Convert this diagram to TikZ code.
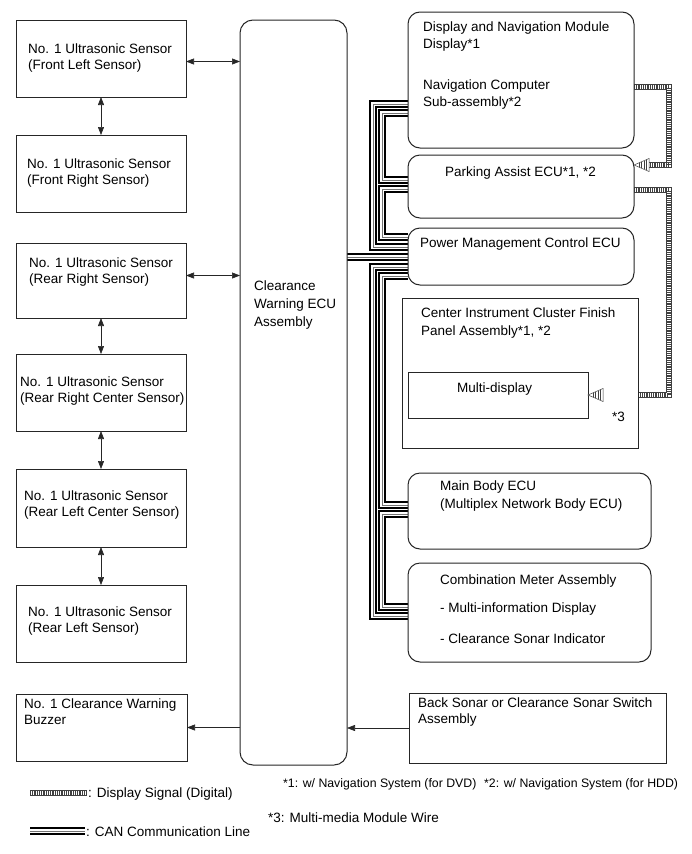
\documentclass[tikz,border=0pt]{standalone}
\usepackage{fontspec}
\setmainfont{Liberation Sans}
\usetikzlibrary{arrows.meta,backgrounds}
\newcommand\dsigpath[1]{\draw[sigA] #1; \draw[sigB] #1;}
\begin{document}
\begin{tikzpicture}[x=1pt,y=-1pt,
  box/.style={draw=black!85, line width=1pt, fill=white, anchor=north west, inner sep=0pt, outer sep=0pt},
  rbox/.style={box, rounded corners=12pt},
  txt/.style={anchor=north west, inner sep=0pt, align=left, font=\fontsize{13.5}{17}\selectfont},
  stxt/.style={txt, font=\fontsize{13.5}{16}\selectfont},
  ltxt/.style={txt, font=\fontsize{13.5}{18}\selectfont},
  ntxt/.style={txt, font=\fontsize{12.3}{15}\selectfont},
  arr/.style={line width=0.6pt, black!85, -{Triangle[length=8pt,width=6pt]}},
  darr/.style={line width=0.6pt, black!85, {Triangle[length=8pt,width=6pt]}-{Triangle[length=8pt,width=6pt]}},
  can/.style={draw=black, line width=8pt, line join=miter, postaction={draw=white, line width=3.6pt}, postaction={draw=black!55, line width=0.9pt}},
  sigA/.style={draw=black!75, line width=0.5pt, double=white, double distance=4.6pt, line join=miter},
  sigB/.style={draw=black!75, line width=4.6pt, dash pattern=on 0.6pt off 1.2pt},
  sigtip/.pic={
    \draw[black!75, line width=0.5pt, fill=white] (0,0) -- (15,-6.5) -- (15,6.5) -- cycle;
    \foreach \xx in {5,7.5,10,12.5} \draw[black!75, line width=0.5pt] (\xx,{-\xx*6.5/15}) -- (\xx,{\xx*6.5/15});
  },
]
\useasboundingbox (0,0) rectangle (691,854);

% left column
\node[box, minimum width=170pt, minimum height=77pt] (s1) at (16,20) {};
\node[box, minimum width=170pt, minimum height=77pt] (s2) at (16,135) {};
\node[box, minimum width=170pt, minimum height=75pt] (s3) at (16,243) {};
\node[box, minimum width=170pt, minimum height=77pt] (s4) at (16,354) {};
\node[box, minimum width=170pt, minimum height=78pt] (s5) at (16,469) {};
\node[box, minimum width=170pt, minimum height=77pt] (s6) at (16,585) {};
\node[box, minimum width=171pt, minimum height=67pt] (buz) at (16,694) {};

% ECU
\node[box, rounded corners=13pt, minimum width=107pt, minimum height=745pt] (ecu) at (240,20) {};

% right column
\node[rbox, minimum width=226pt, minimum height=136pt] (dnav) at (408,12) {};
\node[rbox, minimum width=226pt, minimum height=63pt] (pa) at (408,155) {};
\node[rbox, minimum width=226pt, minimum height=57pt] (pmc) at (408,228) {};
\node[box, minimum width=236pt, minimum height=150pt] (cic) at (402,298) {};
\node[box, minimum width=180pt, minimum height=46pt] (md) at (408,372) {};
\node[rbox, minimum width=243pt, minimum height=76pt] (mb) at (408,473) {};
\node[rbox, minimum width=243pt, minimum height=99pt] (cm) at (408,563) {};
\node[box, minimum width=257pt, minimum height=70pt] (bs) at (409,693) {};

% texts
\node[stxt] (t1) at (28,44) {No. 1 Ultrasonic Sensor\\(Front Left Sensor)};
\node[stxt] (t2) at (27,159) {No. 1 Ultrasonic Sensor\\(Front Right Sensor)};
\node[stxt] (t3) at (29,258) {No. 1 Ultrasonic Sensor\\(Rear Right Sensor)};
\node[stxt] (t4) at (20,377) {No. 1 Ultrasonic Sensor\\(Rear Right Center Sensor)};
\node[stxt] (t5) at (24,491) {No. 1 Ultrasonic Sensor\\(Rear Left Center Sensor)};
\node[stxt] (t6) at (28,607) {No. 1 Ultrasonic Sensor\\(Rear Left Sensor)};
\node[stxt] (tbuz) at (24,699) {No. 1 Clearance Warning\\Buzzer};
\node[ltxt] (tecu) at (254,281) {Clearance\\Warning ECU\\Assembly};
\node[txt] (tdnav) at (423,22) {Display and Navigation Module\\Display*1\\[24pt]Navigation Computer\\Sub-assembly*2};
\node[txt] (tpa) at (445,167) {Parking Assist ECU*1, *2};
\node[txt] (tpmc) at (420,238) {Power Management Control ECU};
\node[ltxt] (tcic) at (421,308) {Center Instrument Cluster Finish\\Panel Assembly*1, *2};
\node[txt] (tmd) at (457,383) {Multi-display};
\node[txt] (tst3) at (612,412) {*3};
\node[ltxt] (tmb) at (440,481) {Main Body ECU\\(Multiplex Network Body ECU)};
\node[txt] (tcm) at (440,575) {Combination Meter Assembly\\[11pt]- Multi-information Display\\[14pt]- Clearance Sonar Indicator};
\node[stxt] (tbs) at (418,698) {Back Sonar or Clearance Sonar Switch\\Assembly};

% plain arrows
\draw[darr] ([yshift=-3pt]s1.east) -- ([yshift=-3pt]s1.east -| ecu.west);
\draw[darr] ([yshift=5pt]s3.east) -- ([yshift=5pt]s3.east -| ecu.west);
\draw[darr] (s1.south) -- (s2.north);
\draw[darr] (s3.south) -- (s4.north);
\draw[darr] (s4.south) -- (s5.north);
\draw[darr] (s5.south) -- (s6.north);
\draw[arr] (buz.east -| ecu.west) -- (buz.east);
\draw[arr] (bs.west) -- (bs.west -| ecu.east);

% coordinates for buses
\coordinate (bo) at (373,0);
\coordinate (bi) at (382,0);
\coordinate (sx) at (669,0);
\coordinate (dA) at ([yshift=-92pt]dnav.north west);
\coordinate (dB) at ([yshift=-101pt]dnav.north west);
\coordinate (pA) at ([yshift=-25pt]pa.north west);
\coordinate (pB) at ([yshift=-34pt]pa.north west);
\coordinate (mA) at ([yshift=-9pt]pmc.north west);
\coordinate (mB) at ([yshift=-19pt]pmc.north west);
\coordinate (mC) at ([yshift=-29pt]pmc.north west);
\coordinate (mD) at ([yshift=-39pt]pmc.north west);
\coordinate (mE) at ([yshift=-48pt]pmc.north west);
\coordinate (bA) at ([yshift=-32pt]mb.north west);
\coordinate (bB) at ([yshift=-41pt]mb.north west);
\coordinate (cA) at ([yshift=-44pt]cm.north west);
\coordinate (cB) at ([yshift=-53pt]cm.north west);
\coordinate (d1) at ([yshift=-75pt]dnav.north east);
\coordinate (p1) at ([yshift=-10pt]pa.north east);
\coordinate (p2) at ([yshift=-35pt]pa.north east);
\coordinate (q1) at ([yshift=-23pt]md.north east);

\begin{scope}[on background layer]
\draw[can] (ecu.east |- mC) -- (mC);
\draw[can] (mB) -| (bo |- dA) -- (dA);
\draw[can] (dB) -| (bi |- pA) -- (pA);
\draw[can] (pB) -| (bi |- mA) -- (mA);
\draw[can] (mD) -| (bo |- cB) -- (cB);
\draw[can] (mE) -| (bi |- bA) -- (bA);
\draw[can] (bB) -| (bi |- cA) -- (cA);
\dsigpath{(d1) -| (sx |- p1) -- ([xshift=15pt]p1)}
\dsigpath{(p2) -| (sx |- q1) -- ([xshift=15pt]q1)}
\end{scope}
\pic at (p1) {sigtip};
\pic at (q1) {sigtip};

% legend
\coordinate (lsA) at (30,793);
\coordinate (lsB) at (87,793);
\coordinate (lcA) at (30,831);
\coordinate (lcB) at (85,831);
\dsigpath{(lsA) -- (lsB)}
\draw[can] (lcA) -- (lcB);
\node[txt] (lgs) at (88,788) {: Display Signal (Digital)};
\node[txt] (lgc) at (86,827) {: CAN Communication Line};
\node[ntxt] (n1) at (283,778) {*1: w/ Navigation System (for DVD)};
\node[ntxt] (n2) at (484,778) {*2: w/ Navigation System (for HDD)};
\node[txt] (n3) at (268,813) {*3: Multi-media Module Wire};
\end{tikzpicture}
\end{document}
